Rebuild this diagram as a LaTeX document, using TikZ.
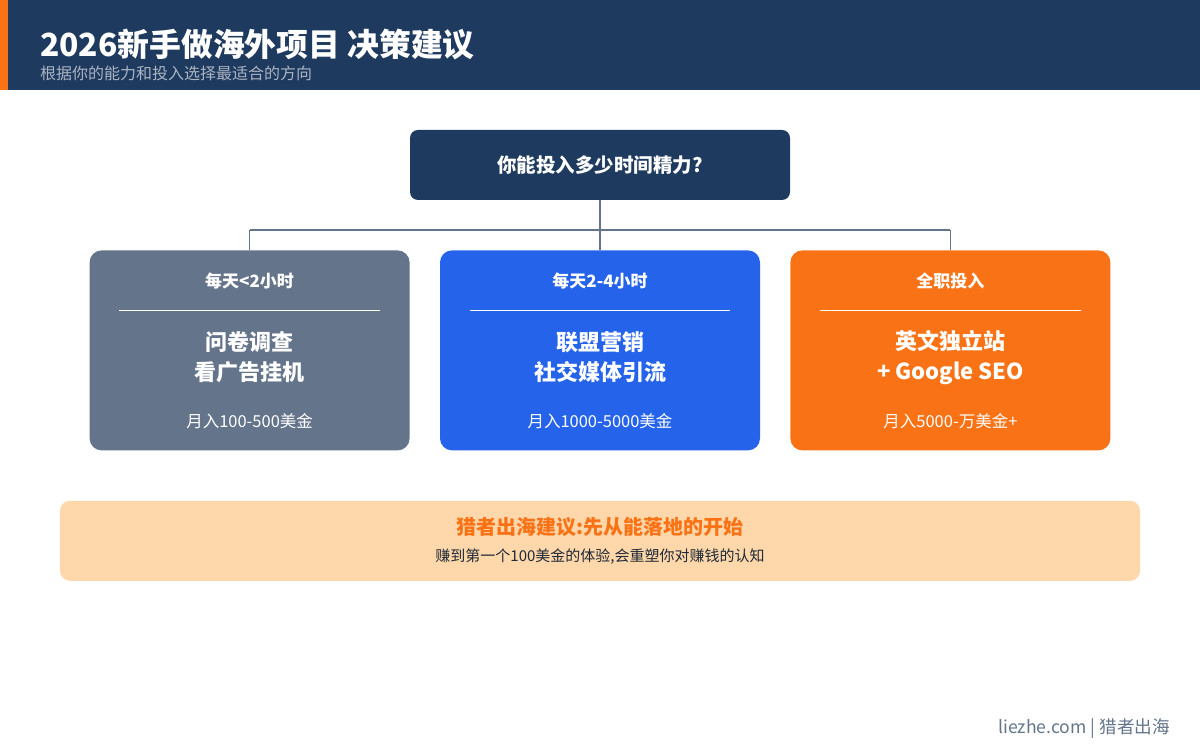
\documentclass[tikz,border=0pt]{standalone}
\usepackage{fontspec}
\setmainfont{Noto Sans CJK SC}
\usepackage{xcolor}
\usetikzlibrary{positioning}

\definecolor{navy}{HTML}{1E3A5F}
\definecolor{slate}{HTML}{64748B}
\definecolor{blueish}{HTML}{2563EB}
\definecolor{orangeish}{HTML}{F97316}
\definecolor{peach}{HTML}{FED7AA}
\definecolor{ink}{HTML}{1F2937}

\begin{document}
\begin{tikzpicture}[x=1pt,y=1pt, node distance=50pt and 30pt,
  choice/.style={rounded corners=12pt,minimum width=320pt,minimum height=200pt,inner sep=0pt},
  txt/.style={text=white,align=center,inner sep=0pt}]
\useasboundingbox (0,0) rectangle (1200,750);
% header
\fill[navy] (0,660) rectangle (1200,750);
\fill[orangeish] (0,660) rectangle (8,750);
\node[anchor=base west,text=white,inner sep=0pt,font=\bfseries\fontsize{31.8}{38}\selectfont] (title) at (40,693) {2026新手做海外项目 决策建议};
\node[anchor=base west,text=white!62!navy,inner sep=0pt,font=\fontsize{16}{20}\selectfont] (sub) at (40,670) {根据你的能力和投入选择最适合的方向};

% question and choices
\node[fill=navy,rounded corners=8pt,minimum width=380pt,minimum height=70pt,text=white,
  font=\bfseries\fontsize{19.5}{24}\selectfont] (q) at (600,585) {你能投入多少时间精力?};
\node[choice,fill=blueish,below=of q] (t2) {};
\node[choice,fill=slate,left=of t2] (t1) {};
\node[choice,fill=orangeish,right=of t2] (t3) {};
\coordinate (fork) at ([yshift=-30pt]q.south);
\draw[slate,line width=1.6pt] (q.south) -- (fork) (fork -| t1.north) -- (fork -| t3.north)
  (fork -| t1.north) -- (t1.north) (fork) -- (t2.north) (fork -| t3.north) -- (t3.north);

\foreach \b/\h/\m/\r in {t1/{每天<2小时}/{问卷调查\\看广告挂机}/{月入100-500美金},
  t2/{每天2-4小时}/{联盟营销\\社交媒体引流}/{月入1000-5000美金},
  t3/{全职投入}/{英文独立站\\+ Google SEO}/{月入5000-万美金+}} {
  \node[txt,font=\bfseries\fontsize{17}{20}\selectfont] (\b-h) at ([yshift=-31pt]\b.north) {\h};
  \draw[white,line width=0.8pt] ([xshift=30pt,yshift=-60pt]\b.north west) -- ([xshift=-30pt,yshift=-60pt]\b.north east);
  \node[txt,font=\bfseries\fontsize{22}{30}\selectfont] (\b-m) at ([yshift=-107pt]\b.north) {\m};
  \node[txt,font=\fontsize{16.5}{20}\selectfont] (\b-r) at ([yshift=-171pt]\b.north) {\r};
}

% advice
\node[fill=peach,rounded corners=10pt,minimum width=1080pt,minimum height=80pt,below=of t2] (tip) {};
\node[text=orangeish,inner sep=0pt,font=\bfseries\fontsize{20}{24}\selectfont] (tip-h) at ([yshift=-26pt]tip.north) {猎者出海建议:先从能落地的开始};
\node[text=ink,inner sep=0pt,font=\fontsize{15}{18}\selectfont] (tip-s) at ([yshift=-56pt]tip.north) {赚到第一个100美金的体验,会重塑你对赚钱的认知};

\node[anchor=east,text=slate,inner sep=0pt,font=\fontsize{17.6}{21}\selectfont] (foot) at (1170,21) {liezhe.com | 猎者出海};
\end{tikzpicture}
\end{document}
